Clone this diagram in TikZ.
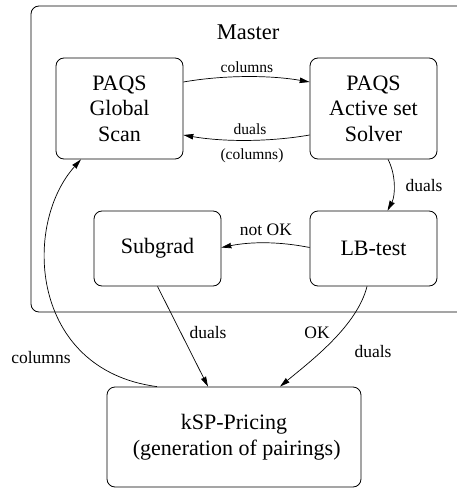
\documentclass[tikz,border=0pt]{standalone}
\usepackage{fontspec}
\setmainfont{Liberation Serif}
\usetikzlibrary{arrows.meta}
\begin{document}
\begin{tikzpicture}[x=1pt,y=-1pt,
  box/.style={draw,line width=0.8pt,rounded corners=8pt,align=center,
    font=\fontsize{22}{25.5}\selectfont,inner sep=0pt},
  flow/.style={line width=0.7pt,-{Stealth[length=10pt,width=5.5pt,inset=0.5pt]}},
  lab/.style={font=\fontsize{17.5}{20}\selectfont,inner sep=0pt},
  slab/.style={font=\fontsize{15.5}{18}\selectfont,inner sep=0pt}]
\useasboundingbox (0,0) rectangle (456,489);
% enclosing master frame
\draw[line width=0.8pt,rounded corners=8pt] (31,6) rectangle (475,312);
\node[font=\fontsize{22.5}{26}\selectfont] (master) at (248,32) {Master};
% processing blocks
\node[box,minimum width=127pt,minimum height=101pt] (g) at (119.5,108.5) {PAQS\\Global\\Scan};
\node[box,minimum width=127pt,minimum height=101pt] (a) at (373.5,108.5) {PAQS\\Active set\\Solver};
\node[box,minimum width=127pt,minimum height=75pt] (s) at (157.5,248.5) {Subgrad};
\node[box,minimum width=127pt,minimum height=75pt] (l) at (373.5,248.5) {LB-test};
\node[box,minimum width=254pt,minimum height=100pt] (k) at (234,437) {kSP-Pricing\\\ (generation of pairings)};
% connectors
\draw[flow] ([yshift=26.5pt]g.east) .. controls +(40,-7) and +(-40,-7) .. ([yshift=26.5pt]a.west);
\draw[flow] ([yshift=-26.5pt]a.west) .. controls +(-40,7) and +(40,7) .. ([yshift=-26.5pt]g.east);
\draw[flow] ([xshift=14.5pt]a.south) .. controls +(8,15) and +(8,-15) .. ([xshift=14pt]l.north);
\draw[flow] ([yshift=1pt]l.west) .. controls +(-30,-6) and +(30,-6) .. ([yshift=1pt]s.east);
\draw[flow] (s.south) -- ([xshift=-26pt]k.north);
\draw[flow] ([xshift=-6.5pt]l.south) .. controls +(-10,40) and +(30,-25) .. ([xshift=46pt]k.north);
\draw[flow] ([xshift=-77pt]k.north) .. controls (30,370) and (22,225) .. ([xshift=-38.5pt]g.south);
% labels
\node[slab] (t1) at (247,67) {columns};
\node[slab] (t2) at (250,129) {duals};
\node[slab] (t3) at (252,156) {(columns)};
\node[lab] (t4) at (424,186) {duals};
\node[lab] (t5) at (266,230) {not OK};
\node[lab] (t6) at (208,333) {duals};
\node[lab] (t7) at (317,333) {OK};
\node[lab] (t8) at (373,352) {duals};
\node[lab] (t9) at (41,358) {columns};
\end{tikzpicture}
\end{document}
